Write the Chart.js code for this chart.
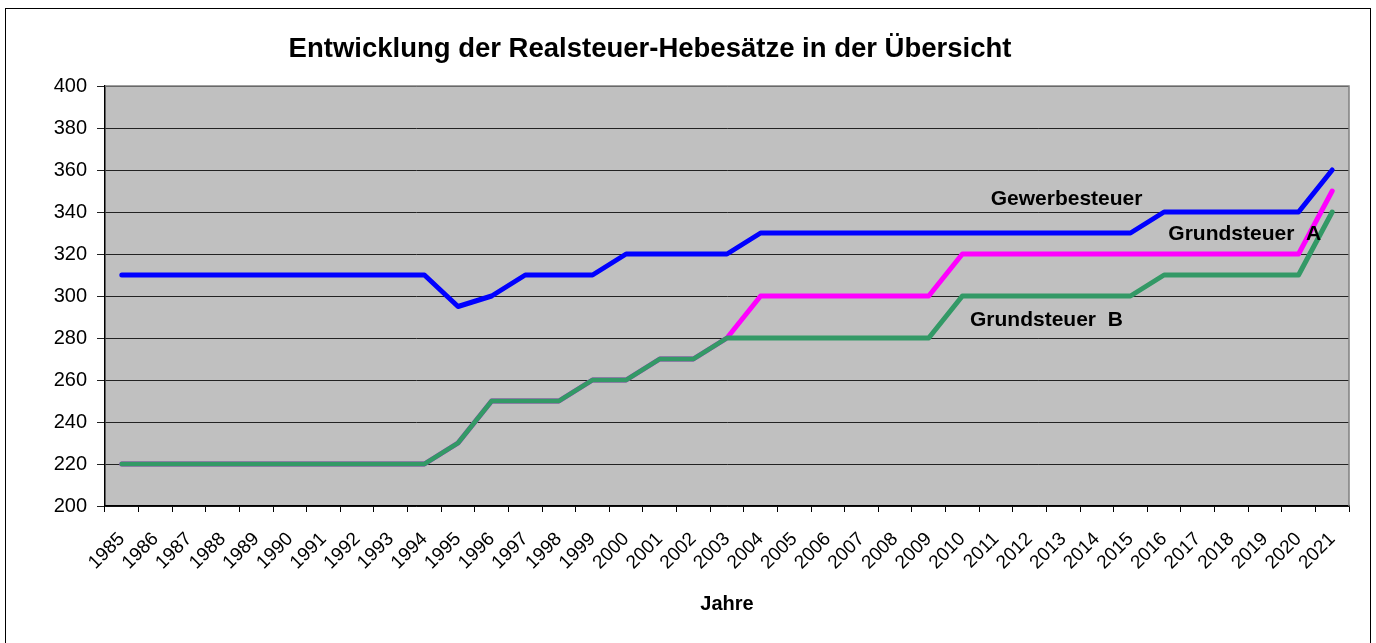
<!DOCTYPE html>
<html lang="de">
<head>
<meta charset="UTF-8">
<title>Entwicklung der Realsteuer-Hebesätze</title>
<script src="https://cdn.jsdelivr.net/npm/chart.js"></script>
<style>
  body { margin: 0; background: #fff; }
  .frame {
    position: absolute;
    left: 5px;
    top: 8px;
    width: 1366px;
    height: 640px;
    border: 1px solid #000;
    box-sizing: border-box;
  }
  #chart { display: block; }
</style>
</head>
<body>
<div class="frame"><canvas id="chart" width="1364" height="638"></canvas></div>
<script>
const years = ["1985","1986","1987","1988","1989","1990","1991","1992","1993","1994",
  "1995","1996","1997","1998","1999","2000","2001","2002","2003","2004",
  "2005","2006","2007","2008","2009","2010","2011","2012","2013","2014",
  "2015","2016","2017","2018","2019","2020","2021"];

const gewerbesteuer = [310,310,310,310,310,310,310,310,310,310,
  295,300,310,310,310,320,320,320,320,330,
  330,330,330,330,330,330,330,330,330,330,
  330,340,340,340,340,340,360];

const grundsteuerA = [220,220,220,220,220,220,220,220,220,220,
  230,250,250,250,260,260,270,270,280,300,
  300,300,300,300,300,320,320,320,320,320,
  320,320,320,320,320,320,350];

const grundsteuerB = [220,220,220,220,220,220,220,220,220,220,
  230,250,250,250,260,260,270,270,280,280,
  280,280,280,280,280,300,300,300,300,300,
  300,310,310,310,310,310,340];

const yTicks = [200,220,240,260,280,300,320,340,360,380,400];

const FONT = "Arial, 'Liberation Sans', sans-serif";

// grey plot area plus grey top/right frame
const plotArea = {
  id: "plotArea",
  beforeDraw(chart) {
    const { ctx, chartArea: a } = chart;
    ctx.save();
    ctx.fillStyle = "#c0c0c0";
    ctx.fillRect(a.left, a.top, a.right - a.left, a.bottom - a.top);
    ctx.restore();
  },
  afterDraw(chart) {
    const { ctx, chartArea: a } = chart;
    ctx.save();
    ctx.strokeStyle = "#808080";
    ctx.lineWidth = 1.5;
    ctx.beginPath();
    ctx.moveTo(a.left, a.top);
    ctx.lineTo(a.right, a.top);
    ctx.lineTo(a.right, a.bottom);
    ctx.stroke();
    ctx.restore();
  }
};

// chart title and series names written inside the plot
const texts = {
  id: "texts",
  afterDraw(chart, args, opts) {
    const { ctx, scales: { x, y } } = chart;
    ctx.save();
    ctx.fillStyle = "#000";
    ctx.textAlign = "center";
    ctx.textBaseline = "middle";
    ctx.font = "bold 27.5px " + FONT;
    ctx.fillText(opts.title, opts.titleX, opts.titleY);
    ctx.font = "bold 21px " + FONT;
    opts.labels.forEach(l => {
      ctx.fillText(l.text, x.getPixelForValue(l.at), y.getPixelForValue(l.value));
    });
    ctx.restore();
  }
};

new Chart(document.getElementById("chart"), {
  type: "line",
  data: {
    labels: years,
    datasets: [
      { label: "Gewerbesteuer", data: gewerbesteuer, borderColor: "#0000ff", order: 0 },
      { label: "Grundsteuer B", data: grundsteuerB, borderColor: "#339966", order: 1 },
      { label: "Grundsteuer A", data: grundsteuerA, borderColor: "#ff00ff", order: 2 }
    ]
  },
  options: {
    responsive: false,
    animation: false,
    layout: { padding: { top: 77, right: 21, left: 0, bottom: 0 } },
    elements: {
      line: { borderWidth: 5, tension: 0, borderJoinStyle: "round", borderCapStyle: "round" },
      point: { radius: 0 }
    },
    plugins: {
      legend: { display: false },
      tooltip: { enabled: false },
      texts: {
        title: "Entwicklung der Realsteuer-Hebesätze in der Übersicht",
        titleX: 644,
        titleY: 40,
        labels: [
          { text: "Gewerbesteuer", at: 28.1, value: 346 },
          { text: "Grundsteuer  A", at: 33.4, value: 329.5 },
          { text: "Grundsteuer  B", at: 27.5, value: 288.6 }
        ]
      }
    },
    scales: {
      x: {
        offset: true,
        afterFit(s) { s.height = 141; },
        grid: { offset: true, drawOnChartArea: false, tickLength: 6, color: "#000" },
        border: { color: "#000", width: 1.5 },
        ticks: {
          autoSkip: false, minRotation: 45, maxRotation: 45, padding: 16,
          color: "#000", font: { family: FONT, size: 19 }
        },
        title: {
          display: true, text: "Jahre", color: "#000",
          font: { family: FONT, size: 20, weight: "bold" },
          padding: { top: 31, bottom: 31 }
        }
      },
      y: {
        min: 200,
        max: 400,
        afterFit(s) { s.width = 99; },
        afterBuildTicks(s) { s.ticks = yTicks.map(v => ({ value: v })); },
        grid: { color: "#222", lineWidth: 1, tickLength: 8 },
        border: { color: "#000", width: 1.5 },
        ticks: { padding: 10, color: "#000", font: { family: FONT, size: 20 } }
      }
    }
  },
  plugins: [plotArea, texts]
});
</script>
</body>
</html>
